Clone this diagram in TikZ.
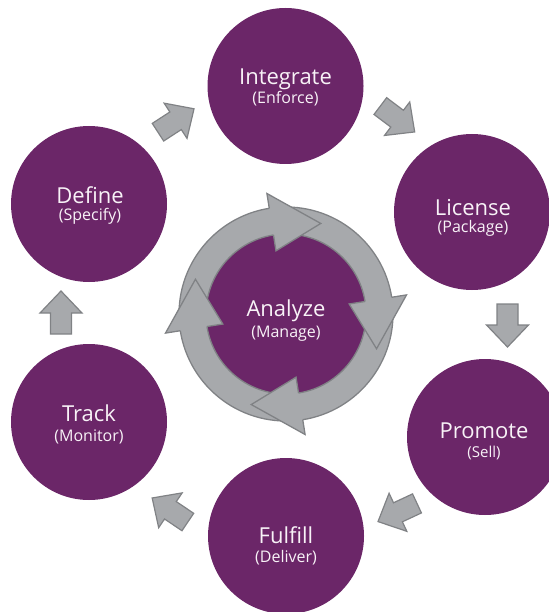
\documentclass[tikz,border=0pt]{standalone}
\usepackage{fontspec}
\setmainfont{Open Sans}
\definecolor{cpurple}{RGB}{107,38,104}
\definecolor{agray}{RGB}{167,169,172}
\definecolor{aline}{RGB}{128,130,133}
\definecolor{ltext}{RGB}{248,242,247}
\newcommand\blockarr[3]{%
  \begin{scope}[shift={(#1,#2)},rotate=#3]
    \draw[barrow] (-21.5,-10.5) -- (-0.5,-10.5) -- (-0.5,-21) -- (21.5,0) -- (-0.5,21) -- (-0.5,10.5) -- (-21.5,10.5) -- cycle;
  \end{scope}}
\begin{document}
\begin{tikzpicture}[x=1pt,y=-1pt,
  circ/.style={circle, fill=cpurple, minimum size=156pt, inner sep=0pt},
  mainlbl/.style={text=ltext, font=\fontsize{22}{22}\selectfont, anchor=base, inner sep=0pt},
  sublbl/.style={text=ltext, font=\fontsize{16}{16}\selectfont, anchor=base, inner sep=0pt},
  barrow/.style={fill=agray, draw=aline, line width=1.2pt, line join=miter},
  ringfill/.style={fill=agray},
  ringline/.style={draw=aline, line width=1.3pt, line join=miter}]
\useasboundingbox (0,0) rectangle (548,612);
% outer circles
\node[circ] (integrate) at (285.5,86) {};
\node[circ] (license) at (472,212) {};
\node[circ] (promote) at (485,437) {};
\node[circ] (fulfill) at (286,536) {};
\node[circ] (track) at (89,422) {};
\node[circ] (define) at (89,204) {};
% centre
\coordinate (c) at (286,314);
\node[circ, minimum size=164pt] (analyze) at (c) {};
\path[ringfill, ringline, even odd rule] (c) circle (107) (c) circle (80);
\foreach \b [evaluate=\b as \t using \b+30] in {-99,-9,81,171} {
  \fill[agray] ([shift={(\b:122)}]c) -- ([shift={(\t:97)}]c) -- ([shift={(\b:64)}]c) -- cycle;
  \draw[ringline] ([shift={(\b:107)}]c) -- ([shift={(\b:122)}]c) -- ([shift={(\t:97)}]c) -- ([shift={(\b:64)}]c) -- ([shift={(\b:80)}]c);
}
% block arrows
\blockarr{176}{120.5}{33}
\blockarr{397.5}{119}{-37}
\blockarr{507.5}{325.5}{-90}
\blockarr{397.5}{512.5}{205}
\blockarr{170}{510}{146}
\blockarr{61}{312.5}{90}
% labels
\node[mainlbl] (integrateT) at (285.5,84.3) {Integrate};
\node[sublbl] (integrateS) at (285.5,103.3) {(Enforce)};
\node[mainlbl] (defineT) at (90,203.3) {Define};
\node[sublbl] (defineS) at (90,220.7) {(Specify)};
\node[mainlbl] (licenseT) at (473,215) {License};
\node[sublbl] (licenseS) at (473,233) {(Package)};
\node[mainlbl] (promoteT) at (484,438) {Promote};
\node[sublbl, font=\fontsize{15}{15}\selectfont] (promoteS) at (484,457) {(Sell)};
\node[mainlbl] (fulfillT) at (286,543.3) {Fulfill};
\node[sublbl] (fulfillS) at (286,562) {(Deliver)};
\node[mainlbl] (trackT) at (89,421.7) {Track};
\node[sublbl] (trackS) at (89,441) {(Monitor)};
\node[mainlbl] (analyzeT) at (286,316.7) {Analyze};
\node[sublbl] (analyzeS) at (286,337) {(Manage)};
\end{tikzpicture}
\end{document}
